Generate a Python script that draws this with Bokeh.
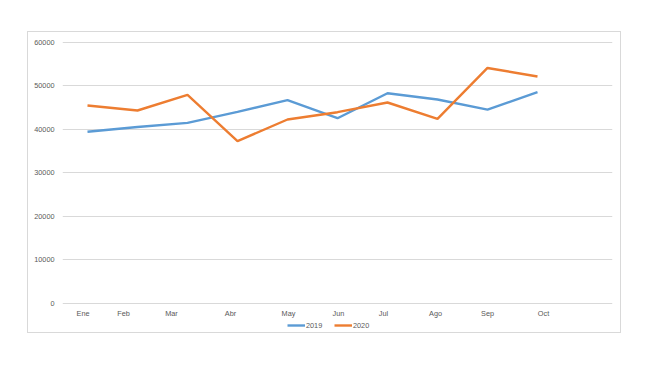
from bokeh.plotting import figure
from bokeh.models import Range1d, FixedTicker, Legend, LegendItem, Spacer
from bokeh.layouts import column, row
from bokeh.core.properties import value
from bokeh.embed import file_html
from bokeh.resources import INLINE

months = ["Ene", "Feb", "Mar", "Abr", "May", "Jun", "Jul", "Ago", "Sep", "Oct"]
sales_2019 = [39400, 40500, 41450, 43970, 46650, 42520, 48250, 46800, 44500, 48480]
sales_2020 = [45430, 44290, 47860, 37260, 42220, 43900, 46120, 42370, 54050, 52080]
y_ticks = [0, 10000, 20000, 30000, 40000, 50000, 60000]

# category slots (one spare slot at the end, as in the reference)
n_slots = len(months) + 1
x_pos = [i + 0.5 for i in range(len(months))]
# where the reference draws each month label (in slot units)
label_pos = [0.41, 1.22, 2.18, 3.36, 4.52, 5.52, 6.42, 7.46, 8.5, 9.62]

FONT = "Liberation Sans"
TXT = "#595959"
GRID = "#d9d9d9"

p = figure(width=594, height=302, output_backend="svg", toolbar_location=None,
           x_range=Range1d(0, n_slots), y_range=Range1d(-7110, 60120),
           x_axis_location=None,
           min_border_left=34, min_border_right=10, min_border_top=9, min_border_bottom=0)
p.styles = {"border": "1px solid #d9d9d9"}
p.outline_line_color = None
p.background_fill_color = "white"
p.border_fill_color = "white"

l19 = p.line(x_pos, sales_2019, line_color="#5B9BD5", line_width=2.4)
l20 = p.line(x_pos, sales_2020, line_color="#ED7D31", line_width=2.4)

# month labels below the zero line
p.text(x=label_pos, y=[0] * len(months), text=months, y_offset=10,
       text_align="center", text_baseline="middle",
       text_font=value(FONT), text_font_size=value("7.3px"), text_color=TXT)

p.xgrid.visible = False
p.ygrid.grid_line_color = GRID
p.ygrid.grid_line_width = 1
p.yaxis.ticker = FixedTicker(ticks=y_ticks)
p.yaxis.axis_line_color = None
p.yaxis.major_tick_line_color = None
p.yaxis.minor_tick_line_color = None
p.yaxis.major_tick_out = 0
p.yaxis.major_tick_in = 0
p.yaxis.major_label_text_font = FONT
p.yaxis.major_label_text_font_size = "7.3px"
p.yaxis.major_label_text_color = TXT
p.yaxis.major_label_standoff = 8

legend = Legend(items=[LegendItem(label="2019", renderers=[l19]),
                       LegendItem(label="2020", renderers=[l20])],
                orientation="horizontal", location=(225, 4),
                glyph_width=18, glyph_height=10, label_height=10,
                label_standoff=1, spacing=8, padding=0, margin=0,
                label_text_font=FONT, label_text_font_size="7.3px",
                label_text_color=TXT, border_line_color=None,
                background_fill_alpha=0)
p.add_layout(legend, "center")

layout = column(Spacer(height=31), row(Spacer(width=27), p))
open("out.html", "w").write(file_html(layout, INLINE))
